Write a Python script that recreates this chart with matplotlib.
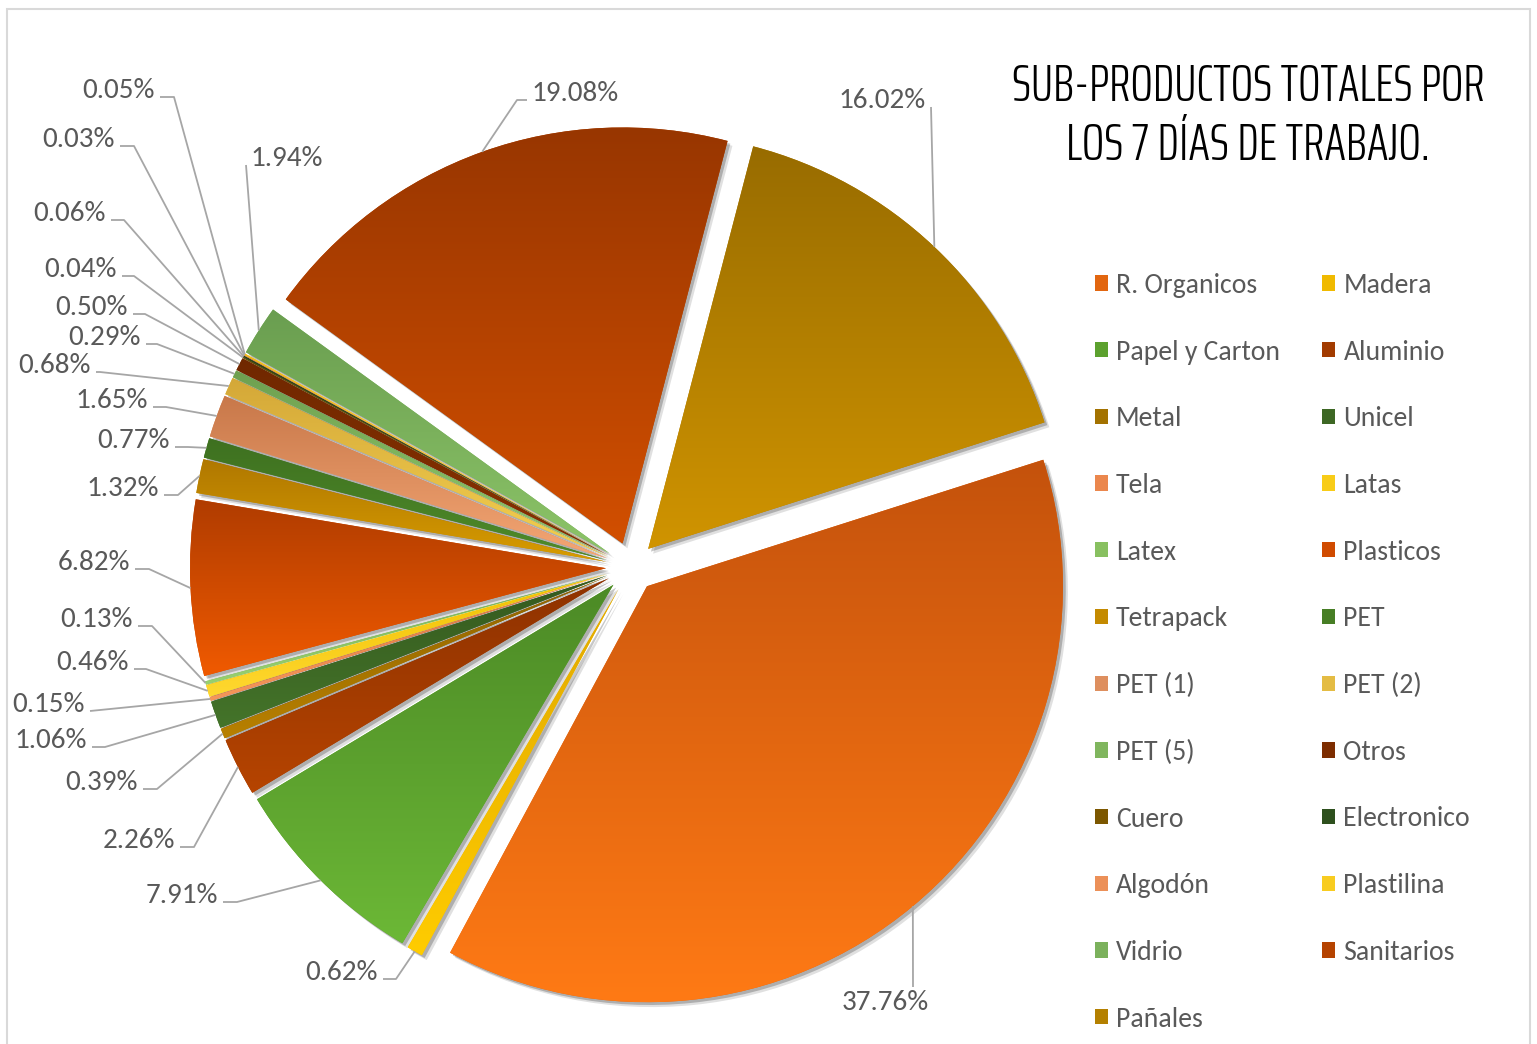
import matplotlib
matplotlib.use('Agg')
import matplotlib.pyplot as plt
import numpy as np
from matplotlib.patches import Patch, Rectangle
import matplotlib.patheffects as pe
from matplotlib.colors import to_rgb

# ---------------- data ----------------
categories = ['R. Organicos', 'Madera', 'Papel y Carton', 'Aluminio', 'Metal', 'Unicel',
              'Tela', 'Latas', 'Latex', 'Plasticos', 'Tetrapack', 'PET', 'PET (1)',
              'PET (2)', 'PET (5)', 'Otros', 'Cuero', 'Electronico', 'Algodón',
              'Plastilina', 'Vidrio', 'Sanitarios', 'Pañales']
percentages = [37.76, 0.62, 7.91, 2.26, 0.39, 1.06, 0.15, 0.46, 0.13, 6.82, 1.32, 0.77,
               1.65, 0.68, 0.29, 0.50, 0.04, 0.06, 0.03, 0.05, 1.94, 19.08, 16.02]
title_text = 'SUB-PRODUCTOS TOTALES POR\nLOS 7 DÍAS DE TRABAJO.'

# ---------------- styles ----------------
top_colors = ['#C4520C', '#E0A800', '#4C8A26', '#8E3200', '#8F6400', '#35591E',
              '#E07840', '#F0C000', '#78B050', '#B03C00', '#B07800', '#3E7020',
              '#C8784A', '#D4A838', '#6EA050', '#702800', '#6E4C00', '#28461A',
              '#E08048', '#F0C010', '#6A9E50', '#983600', '#986C00']
bottom_colors = ['#FF7A15', '#FFCC00', '#6CB836', '#B64400', '#B88000', '#44742A',
                 '#F5965A', '#FFD830', '#98D070', '#F05A00', '#D89C00', '#4F8C2A',
                 '#F4A674', '#F4D050', '#92CC6C', '#8A3200', '#8A6200', '#345A22',
                 '#F8A068', '#FFD830', '#8CC468', '#D24F00', '#D09400']

W, H = 1537, 1044
TEXT_COLOR = '#595959'
LINE_COLOR = '#A6A6A6'
FONT = ['Carlito', 'DejaVu Sans']
FS_LABEL = 21
FS_LEGEND = 20

# label layout in pixel coords: (x, baseline_y, ha, horizontal elbow length)
label_layout = [
    (885, 1010, 'center', 0), (378, 980, 'right', 13), (218, 903, 'right', 14),
    (175, 848, 'right', 14), (138, 790, 'right', 14), (87, 748, 'right', 13),
    (85, 712, 'right', 0), (129, 670, 'right', 12), (133, 627, 'right', 14),
    (130, 570, 'right', 14), (159, 496, 'right', 14), (170, 448, 'right', 13),
    (148, 408, 'right', 13), (91, 373, 'right', 4), (141, 345, 'right', 11),
    (128, 315, 'right', 12), (117, 277, 'right', 12), (106, 221, 'right', 13),
    (115, 147, 'right', 14), (155, 98, 'right', 14), (250, 166, 'left', 0),
    (531, 101, 'left', 10), (926, 108, 'right', 0),
]


def P(x, y):
    return (x, H - y)


def mix(c1, c2, t):
    a, b = np.array(to_rgb(c1)), np.array(to_rgb(c2))
    return a * (1 - t) + b * t


fig = plt.figure(figsize=(W / 100, H / 100), dpi=100)
ax = fig.add_axes([0, 0, 1, 1])

mid_colors = [mix(t, b, 0.5) for t, b in zip(top_colors, bottom_colors)]
wedges, _ = ax.pie(percentages, startangle=17.7, counterclock=False,
                   center=P(631, 567), radius=416, explode=[25] * len(percentages),
                   colors=mid_colors, wedgeprops=dict(linewidth=0))

shadow = [pe.SimplePatchShadow(offset=(3.5, -3.5), shadow_rgbFace='black', alpha=0.12),
          pe.SimplePatchShadow(offset=(2, -2), shadow_rgbFace='black', alpha=0.22),
          pe.Normal()]
for w, ct, cb in zip(wedges, top_colors, bottom_colors):
    w.set_zorder(1)
    w.set_path_effects(shadow)
    ext = w.get_path().get_extents()
    g = np.linspace(0, 1, 256)[:, None, None]
    rgb = (1 - g) * np.array(to_rgb(cb)) + g * np.array(to_rgb(ct))
    im = ax.imshow(rgb, extent=(ext.x0, ext.x1, ext.y0, ext.y1), origin='lower',
                   aspect='auto', interpolation='bilinear', zorder=2)
    im.set_clip_path(w)

# data labels with leader lines
for w, v, (lx, ly, ha, hseg) in zip(wedges, percentages, label_layout):
    th = np.deg2rad(0.5 * (w.theta1 + w.theta2))
    px = w.center[0] + w.r * np.cos(th)
    py = w.center[1] + w.r * np.sin(th)
    yb = H - ly
    if ha == 'right':
        sx, sy = lx + 5, yb + 1
        ex = sx + hseg
    elif ha == 'left':
        sx, sy = lx - 4, yb + 1
        ex = sx - hseg
    else:
        sx, sy = lx + 28, yb + 23
        ex = sx
    ax.plot([px, ex, sx], [py, sy, sy], color=LINE_COLOR, lw=1.3, zorder=3,
            solid_capstyle='butt')
    ax.text(lx, yb, f'{v:.2f}%', ha=ha, va='baseline', fontsize=FS_LABEL,
            color=TEXT_COLOR, family=FONT, zorder=4)

# legend (Excel fills row by row -> reorder for matplotlib's column fill)
handles = [Patch(facecolor=c, edgecolor='none') for c in mid_colors]
order = list(range(0, len(categories), 2)) + list(range(1, len(categories), 2))
leg = ax.legend([handles[i] for i in order], [categories[i] for i in order], ncol=2,
                loc='upper left', bbox_to_anchor=(1095 / W, 1 - 273 / H),
                bbox_transform=fig.transFigure, frameon=False,
                prop={'family': FONT, 'size': FS_LEGEND}, handlelength=0.47,
                handleheight=0.47, handletextpad=0.29, columnspacing=1.52,
                labelspacing=1.50, borderpad=0, borderaxespad=0)
for t in leg.get_texts():
    t.set_color(TEXT_COLOR)

# title
ax.text(1248, H - 116, title_text, ha='center', va='center', fontsize=38,
        family=['Saira ExtraCondensed', 'DejaVu Sans'], weight=300,
        color='black', linespacing=1.25)

ax.set_xlim(0, W)
ax.set_ylim(0, H)
ax.set_aspect('equal')
ax.axis('off')

fig.add_artist(Rectangle((7 / W, -0.01), (1530 - 7) / W, 1.01 - 9 / H,
                         transform=fig.transFigure, fill=False,
                         edgecolor='#D9D9D9', lw=1.5))

fig.savefig('out.png', dpi=100, facecolor='white')
